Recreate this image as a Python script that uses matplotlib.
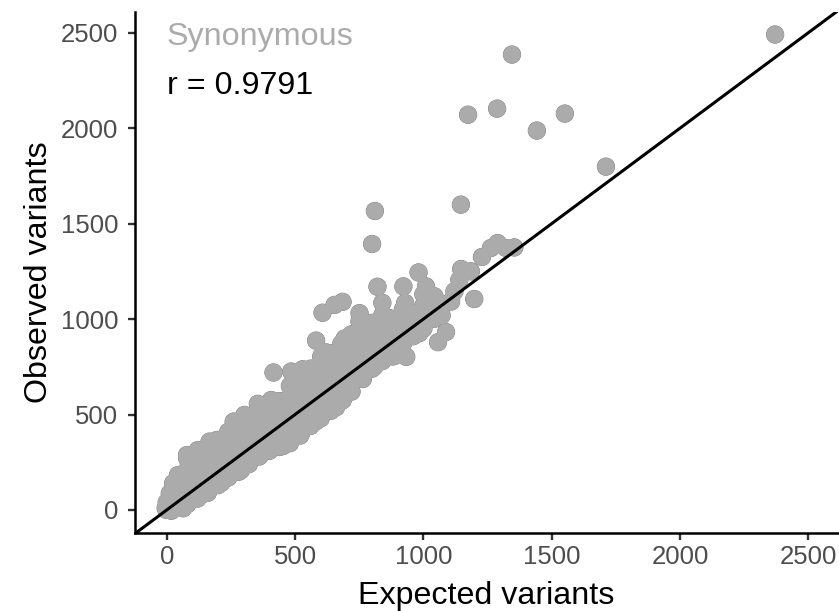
import matplotlib
matplotlib.use("Agg")
import matplotlib.pyplot as plt

plt.rcParams['font.family'] = ['Liberation Sans', 'DejaVu Sans']

# outliers first, then outline of the cloud, then its inside
outlier_x = [2370, 1345, 1287, 1174, 1442, 1551, 1711, 1146, 811, 800]
outlier_y = [2490, 2385, 2102, 2070, 1987, 2076, 1798, 1599, 1566, 1393]

upper_x = [-4, 12, 25, 44, 79, 122, 167, 196, 261, 303, 355, 407, 416, 485, 530, 582, 621, 602, 693, 607, 654,
           685, 751, 751, 809, 821, 840, 868, 922, 929, 981, 1010, 1043, 1062, 1147, 1185, 1140, 1121, 1198,
           1228, 1263, 1289, 1322, 1354]
upper_y = [9, 87, 140, 183, 288, 314, 358, 367, 463, 498, 556, 576, 720, 725, 737, 887, 825, 804, 898, 1033, 1074,
           1090, 1031, 987, 970, 1169, 1085, 1005, 1171, 1084, 1244, 1171, 1119, 1084, 1262, 1250, 1206, 1145, 1105,
           1325, 1372, 1398, 1372, 1375]

lower_x = [18, 64, 148, 213, 290, 362, 453, 524, 580, 660, 686, 764, 809, 881, 887, 933, 984, 1057, 1071, 1088,
           1108]
lower_y = [-4, 9, 87, 143, 210, 283, 335, 402, 463, 538, 576, 686, 751, 804, 807, 802, 926, 879, 1019, 932,
           1092]

# inside of the cloud, one list of y per x column
inner_cols = [0, 40, 80, 120, 160, 200, 240, 280, 320, 360, 400, 440, 480, 520, 560, 600, 640, 680, 720, 760,
              800, 840, 880, 920, 960, 1000, 1040]
inner_rows = [[0, 40],
              [40, 100, 160],
              [30, 90, 150, 210, 270],
              [60, 120, 180, 240, 300],
              [90, 150, 210, 270, 330],
              [130, 190, 250, 310, 360],
              [170, 230, 290, 350, 410],
              [200, 260, 320, 380, 440],
              [240, 300, 360, 420, 480],
              [280, 340, 400, 460, 520],
              [310, 370, 430, 490, 550],
              [330, 390, 450, 510, 570],
              [350, 410, 470, 530, 590, 650],
              [390, 450, 510, 570, 630, 690],
              [440, 500, 560, 620, 680, 740],
              [480, 540, 600, 660, 720, 780],
              [520, 580, 640, 700, 760, 820],
              [570, 630, 690, 750, 810, 870],
              [620, 680, 740, 800, 860, 920],
              [690, 750, 810, 870, 930, 990],
              [740, 800, 860, 920, 980],
              [780, 840, 900, 960, 1020],
              [810, 870, 930, 990],
              [870, 930, 990, 1050],
              [910, 970, 1030],
              [950, 1010, 1070, 1130],
              [1000, 1060, 1110]]

xticks = [0, 500, 1000, 1500, 2000, 2500]
yticks = [0, 500, 1000, 1500, 2000, 2500]

x = outlier_x + upper_x + lower_x
y = outlier_y + upper_y + lower_y
for col, rows in zip(inner_cols, inner_rows):
    x += [col] * len(rows)
    y += rows

fig = plt.figure(figsize=(8.39, 6.11), dpi=100)
ax = fig.add_axes([135/839, (611-533)/611, 703/839, 521/611])

# outline layer under the fill so that only the outer rim shows
ax.scatter(x, y, s=172, color='#707070', edgecolors='none', zorder=2)
ax.scatter(x, y, s=163, color='#ABABAB', edgecolors='none', zorder=3)
ax.plot([-200, 2800], [-200, 2800], color='black', lw=2.2, zorder=4)

ax.set_xlim(-123.5, 2615)
ax.set_ylim(-120.5, 2608)
ax.set_xticks(xticks)
ax.set_yticks(yticks)
ax.tick_params(labelsize=18.5, labelcolor='#4D4D4D', length=5, width=1.7, color='#333333')
ax.tick_params(axis='x', pad=4)
ax.tick_params(axis='y', pad=7)
ax.spines['top'].set_visible(False)
ax.spines['right'].set_visible(False)
ax.spines['left'].set_linewidth(1.8)
ax.spines['bottom'].set_linewidth(1.8)
ax.set_xlabel('Expected variants', fontsize=23.2, labelpad=8)
ax.set_ylabel('Observed variants', fontsize=23.2, labelpad=5)

ax.text(0, 2475, 'Synonymous', color='#ABABAB', fontsize=23.2, va='center', ha='left')
ax.text(0, 2220, 'r = 0.9791', color='black', fontsize=23.2, va='center', ha='left')

fig.savefig('out.png', dpi=100)
